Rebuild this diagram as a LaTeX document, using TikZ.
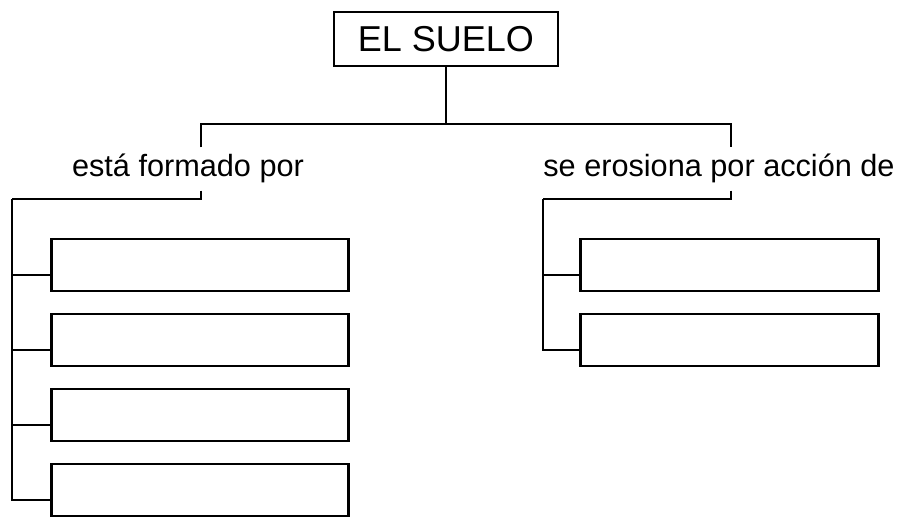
\documentclass[tikz,border=0pt]{standalone}
\usepackage{fontspec}
\setmainfont{Liberation Sans}
\usetikzlibrary{positioning}
\tikzstyle{topic} = [rectangle, draw, line width=2.2pt, minimum width=168pt, minimum height=40.5pt, font=\fontsize{27}{32}\selectfont]
\tikzstyle{slot} = [rectangle, draw, line width=2.2pt, minimum width=223pt, minimum height=39pt]
\tikzstyle{link} = [text height=15pt, text depth=3pt, inner xsep=0pt, inner ysep=7pt, font=\fontsize{23}{28}\selectfont]
\tikzstyle{joint} = [line width=2.2pt]

\begin{document}
\begin{tikzpicture}[x=0.75pt, y=0.75pt, node distance=56.25pt]
            \useasboundingbox (0,0) rectangle (904,518);
            \node (suelo) [topic] at (446,479) {EL SUELO};
            \node (formado) [link, anchor=base] at (188,341) {está formado por};
            \node (erosion) [link, anchor=base] at (719,341) {se erosiona por acción de};

            \node (compA) [slot] at (200,253) {};
            \node (compB) [slot, below of=compA] {};
            \node (compC) [slot, below of=compB] {};
            \node (compD) [slot, below of=compC] {};
            \node (agenteA) [slot] at (729.5,253) {};
            \node (agenteB) [slot, below of=agenteA] {};

            \coordinate (jleft)  at (201,394);
            \coordinate (jright) at (731,394);
            \coordinate (tleft)  at (12,319);
            \coordinate (tright) at (543,319);

            \draw [joint] (suelo.south) -- (suelo.south |- jleft);
            \draw [joint] (formado.north -| jleft) -- (jleft) -- (jright) -- (erosion.north -| jright);
            \draw [joint] (formado.south -| jleft) |- (tleft);
            \draw [joint] (erosion.south -| jright) |- (tright);
            \foreach \c in {compA, compB, compC, compD}
                \draw [joint] ([yshift=-7.5pt]\c.west) -| (tleft);
            \foreach \c in {agenteA, agenteB}
                \draw [joint] ([yshift=-7.5pt]\c.west) -| (tright);
        \end{tikzpicture}
\end{document}
